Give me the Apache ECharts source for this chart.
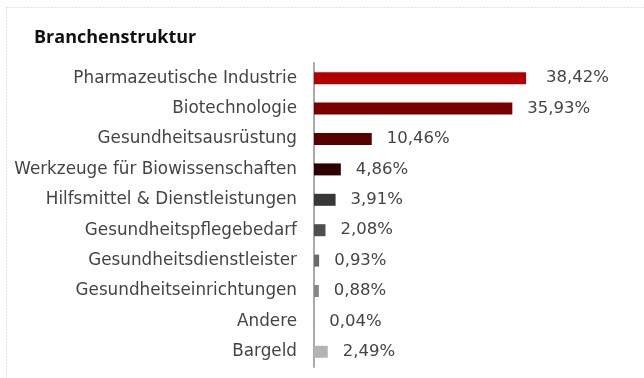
<!DOCTYPE html>
<html>
<head>
<meta charset="utf-8">
<script src="https://cdn.jsdelivr.net/npm/echarts@6/dist/echarts.min.js"></script>
<style>
  html, body { margin: 0; padding: 0; background: #fff; }
  #chart { width: 644px; height: 378px; }
</style>
</head>
<body>
<div id="chart"></div>
<script>
// Sector breakdown of the fund (percent of assets)
const categories = [
  'Pharmazeutische Industrie',
  'Biotechnologie',
  'Gesundheitsausrüstung',
  'Werkzeuge für Biowissenschaften',
  'Hilfsmittel & Dienstleistungen',
  'Gesundheitspflegebedarf',
  'Gesundheitsdienstleister',
  'Gesundheitseinrichtungen',
  'Andere',
  'Bargeld'
];
const values = [38.42, 35.93, 10.46, 4.86, 3.91, 2.08, 0.93, 0.88, 0.04, 2.49];
const barColors = [
  '#b00000', '#7a0000', '#560000', '#2e0000', '#383838',
  '#4e4e4e', '#6a6a6a', '#868686', '#a0a0a0', '#b4b4b4'
];

const FONT = '"DejaVu Sans"';
const fmt = v => v.toFixed(2).replace('.', ',') + '%';

const chart = echarts.init(document.getElementById('chart'), null, { renderer: 'canvas' });

chart.setOption({
  animation: false,
  textStyle: { fontFamily: FONT },
  title: {
    text: 'Branchenstruktur',
    left: 29,
    top: 24,
    textStyle: { fontFamily: '"Open Sans"', fontSize: 18, fontWeight: 'bold', color: '#111' }
  },
  graphic: [{
    type: 'rect',
    shape: { x: 6.5, y: 7.5, width: 700, height: 420 },
    style: { fill: 'none', stroke: '#c8c8c8', lineWidth: 1, lineDash: [1, 2] },
    silent: true
  }],
  grid: { left: 314, right: 54, top: 63, bottom: 11, containLabel: false },
  xAxis: {
    type: 'value',
    min: 0,
    max: 50,
    show: false
  },
  yAxis: {
    type: 'category',
    data: categories,
    inverse: true,
    axisLine: { show: true, lineStyle: { color: '#aaaaaa', width: 2 } },
    axisTick: { show: false },
    axisLabel: { margin: 17, fontSize: 16.8, color: '#444', fontFamily: FONT }
  },
  series: [{
    type: 'bar',
    barWidth: 12,
    data: values.map((v, i) => ({
      value: v,
      itemStyle: { color: barColors[i] },
      label: i === 0 ? { distance: 20 } : undefined
    })),
    label: {
      show: true,
      position: 'right',
      distance: 15,
      fontSize: 16.5,
      color: '#444',
      fontFamily: FONT,
      formatter: p => fmt(p.value)
    }
  }]
});
</script>
</body>
</html>
